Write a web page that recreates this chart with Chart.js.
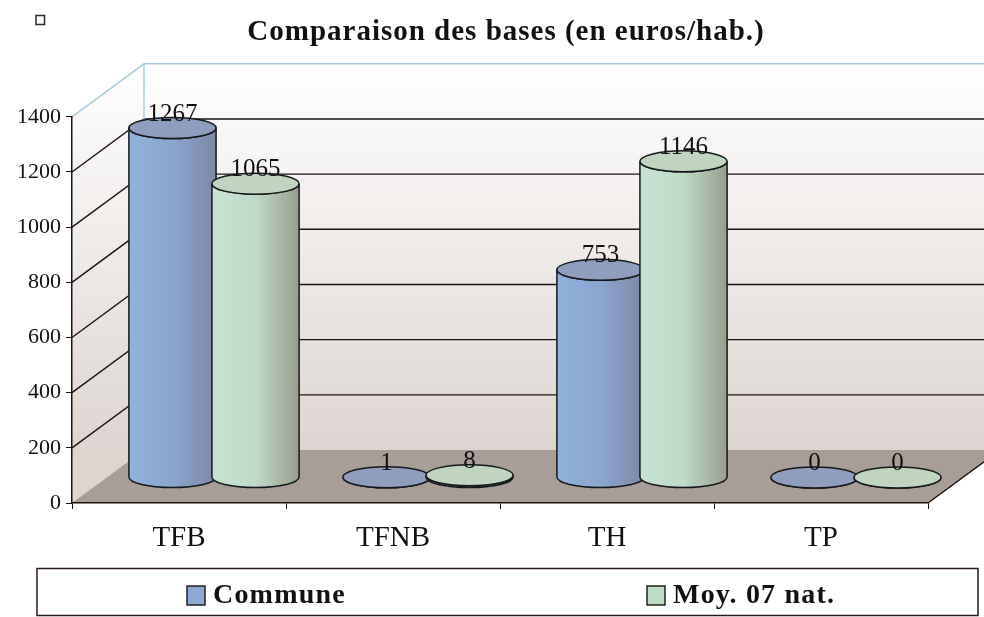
<!DOCTYPE html>
<html>
<head>
<meta charset="utf-8">
<style>
  body { margin: 0; background: #fff; }
  canvas { display: block; }
</style>
<script src="https://cdn.jsdelivr.net/npm/chart.js@4"></script>
</head>
<body>
<canvas id="baseChart" width="984" height="617"></canvas>
<script>
// Data
const categories = ['TFB', 'TFNB', 'TH', 'TP'];
const commune = [1267, 1, 753, 0];
const moyenne = [1065, 8, 1146, 0];
const yTicks = [0, 200, 400, 600, 800, 1000, 1200, 1400];

// 3D look
const DEPTH_X = 72, DEPTH_Y = 53;
const BAR_LIFT = 25.5, CAP_RY = 10.5;
const SERIF = '"Liberation Serif", serif';
const palettes = [
  { stops: ['#8fb2de', '#8aa6d0', '#7d88a6'], cap: '#8f9dbf', key: '#8ea9d6' },
  { stops: ['#c6e2d2', '#bfdbc8', '#989d8e'], cap: '#bfd5c0', key: '#bcdcc6' }
];

// Wall, floor and back gridlines, positioned from the scales
const wallsPlugin = {
  id: 'walls',
  afterLayout(chart) {
    // the y scale clips its labels to its box, let them use the left margin
    chart.scales.y.left = 0;
    // title is centred over the whole wall, not the front axis
    const title = chart.titleBlock;
    title.right = 984;
    if (!title.spaced) {
      const drawTitle = title.draw;
      title.spaced = true;
      title.draw = function() {
        chart.ctx.save();
        chart.ctx.letterSpacing = '1px';
        drawTitle.call(title);
        chart.ctx.restore();
      };
    }
  },
  beforeDraw(chart) {
    const { ctx, chartArea: a, scales: { y } } = chart;
    const y0 = y.getPixelForValue(0), yMax = y.getPixelForValue(1400);

    const wall = ctx.createLinearGradient(0, yMax - DEPTH_Y, 0, y0 - DEPTH_Y);
    wall.addColorStop(0, '#ffffff');
    wall.addColorStop(1, '#ddd5d0');
    ctx.fillStyle = wall;
    ctx.fillRect(a.left + DEPTH_X, yMax - DEPTH_Y, 984, y0 - yMax);
    ctx.beginPath();
    ctx.moveTo(a.left, yMax);
    ctx.lineTo(a.left + DEPTH_X, yMax - DEPTH_Y);
    ctx.lineTo(a.left + DEPTH_X, y0 - DEPTH_Y);
    ctx.lineTo(a.left, y0);
    ctx.closePath();
    ctx.fill();

    // floor
    ctx.fillStyle = '#a89d97';
    ctx.beginPath();
    ctx.moveTo(a.left, y0);
    ctx.lineTo(a.right, y0);
    ctx.lineTo(a.right + DEPTH_X, y0 - DEPTH_Y);
    ctx.lineTo(a.left + DEPTH_X, y0 - DEPTH_Y);
    ctx.closePath();
    ctx.fill();

    // gridlines
    yTicks.forEach(function(v) {
      if (v === 0) return;
      const py = y.getPixelForValue(v);
      ctx.strokeStyle = v === 1400 ? '#aecbdc' : '#1c1412';
      ctx.lineWidth = v === 1400 ? 1.5 : 1.4;
      ctx.beginPath();
      ctx.moveTo(a.left, py);
      ctx.lineTo(a.left + DEPTH_X, py - DEPTH_Y);
      ctx.lineTo(a.right + DEPTH_X, py - DEPTH_Y);
      ctx.stroke();
    });
    ctx.strokeStyle = '#aecbdc';
    ctx.lineWidth = 1.5;
    ctx.beginPath();
    ctx.moveTo(a.left + DEPTH_X, yMax - DEPTH_Y);
    ctx.lineTo(a.left + DEPTH_X, y0 - DEPTH_Y);
    ctx.stroke();

    // floor right edge
    ctx.strokeStyle = '#1c1412';
    ctx.lineWidth = 1.4;
    ctx.beginPath();
    ctx.moveTo(a.right, y0);
    ctx.lineTo(a.right + DEPTH_X, y0 - DEPTH_Y);
    ctx.stroke();

    // stray marker top left
    ctx.strokeStyle = '#2a2a2a';
    ctx.lineWidth = 1.5;
    ctx.strokeRect(36, 15.5, 8.5, 9);
  }
};

function drawCylinder(ctx, bar, pal) {
  const rx = bar.width / 2;
  const cx = bar.x + DEPTH_X / 2 - 1;
  const topY = bar.y - BAR_LIFT, baseY = bar.base - BAR_LIFT;
  const grad = ctx.createLinearGradient(cx - rx, 0, cx + rx, 0);
  grad.addColorStop(0, pal.stops[0]);
  grad.addColorStop(0.5, pal.stops[1]);
  grad.addColorStop(1, pal.stops[2]);
  ctx.save();
  ctx.lineWidth = 1.5;
  ctx.strokeStyle = '#15181a';
  ctx.fillStyle = grad;
  ctx.beginPath();
  ctx.ellipse(cx, baseY, rx, CAP_RY, 0, 0, Math.PI);
  ctx.lineTo(cx - rx, topY);
  ctx.ellipse(cx, topY, rx, CAP_RY, 0, Math.PI, 0, true);
  ctx.closePath();
  ctx.fill();
  ctx.stroke();
  ctx.fillStyle = pal.cap;
  ctx.beginPath();
  ctx.ellipse(cx, topY, rx, CAP_RY, 0, 0, Math.PI * 2);
  ctx.fill();
  ctx.stroke();
  ctx.restore();
}

// Bars are drawn as cylinders from the elements the library laid out
const cylinderPlugin = {
  id: 'cylinders',
  beforeDatasetsDraw(chart) {
    // first series at the back, second one overlaps it
    chart.data.datasets.forEach(function(ds, i) {
      chart.getDatasetMeta(i).data.forEach(function(bar) {
        drawCylinder(chart.ctx, bar, palettes[i]);
      });
    });
  },
  beforeDatasetDraw() {
    return false;
  },
  afterDatasetsDraw(chart) {
    const { ctx } = chart;
    ctx.save();
    ctx.fillStyle = '#111';
    ctx.font = '25px ' + SERIF;
    ctx.textAlign = 'center';
    ctx.textBaseline = 'middle';
    chart.data.datasets.forEach(function(ds, i) {
      chart.getDatasetMeta(i).data.forEach(function(bar, j) {
        ctx.fillText(ds.data[j], bar.x + DEPTH_X / 2 - 1, bar.y - BAR_LIFT - 14);
      });
    });
    ctx.restore();
  }
};

// Legend box with wide spacing the built-in legend can't give
const legendBoxPlugin = {
  id: 'legendBox',
  afterDraw(chart) {
    const { ctx } = chart;
    const keys = [187, 647];
    ctx.save();
    ctx.letterSpacing = '1.2px';
    ctx.strokeStyle = '#2a1c18';
    ctx.lineWidth = 1.5;
    ctx.strokeRect(37, 568.5, 941, 47);
    ctx.font = 'bold 28px ' + SERIF;
    ctx.textBaseline = 'middle';
    chart.data.datasets.forEach(function(ds, i) {
      ctx.fillStyle = palettes[i].key;
      ctx.fillRect(keys[i], 586, 18, 19);
      ctx.strokeStyle = '#222';
      ctx.strokeRect(keys[i], 586, 18, 19);
      ctx.fillStyle = '#111';
      ctx.fillText(ds.label, keys[i] + 26, 596);
    });
    ctx.restore();
  }
};

new Chart(document.getElementById('baseChart'), {
  type: 'bar',
  data: {
    labels: categories,
    datasets: [
      { label: 'Commune', data: commune, backgroundColor: palettes[0].key },
      { label: 'Moy. 07 nat.', data: moyenne, backgroundColor: palettes[1].key }
    ]
  },
  options: {
    responsive: false,
    animation: false,
    layout: { autoPadding: false, padding: { left: 28, right: 56, top: 0, bottom: 0 } },
    categoryPercentage: 0.776,
    barPercentage: 1.05,
    plugins: {
      legend: { display: false },
      tooltip: { enabled: false },
      title: {
        display: true,
        text: 'Comparaison des bases (en euros/hab.)',
        color: '#111',
        font: { family: SERIF, size: 29, weight: 'bold' },
        padding: { top: 15, bottom: 67 }
      }
    },
    scales: {
      x: {
        afterFit: function(s) { s.height = 114; },
        grid: { drawOnChartArea: false, color: '#1c1412', tickLength: 6 },
        border: { color: '#1c1412', width: 1.5 },
        ticks: { color: '#111', padding: 12, maxRotation: 0, font: { family: SERIF, size: 29 } }
      },
      y: {
        min: 0,
        max: 1400,
        afterFit: function(s) { s.width = 44; },
        afterBuildTicks: function(s) { s.ticks = yTicks.map(function(v) { return { value: v }; }); },
        grid: { drawOnChartArea: false, color: '#1c1412', tickLength: 6 },
        border: { color: '#1c1412', width: 1.5 },
        ticks: {
          color: '#111',
          padding: 5,
          font: { family: SERIF, size: 22 },
          callback: function(value) { return String(value); }
        }
      }
    }
  },
  plugins: [wallsPlugin, cylinderPlugin, legendBoxPlugin]
});
</script>
</body>
</html>
